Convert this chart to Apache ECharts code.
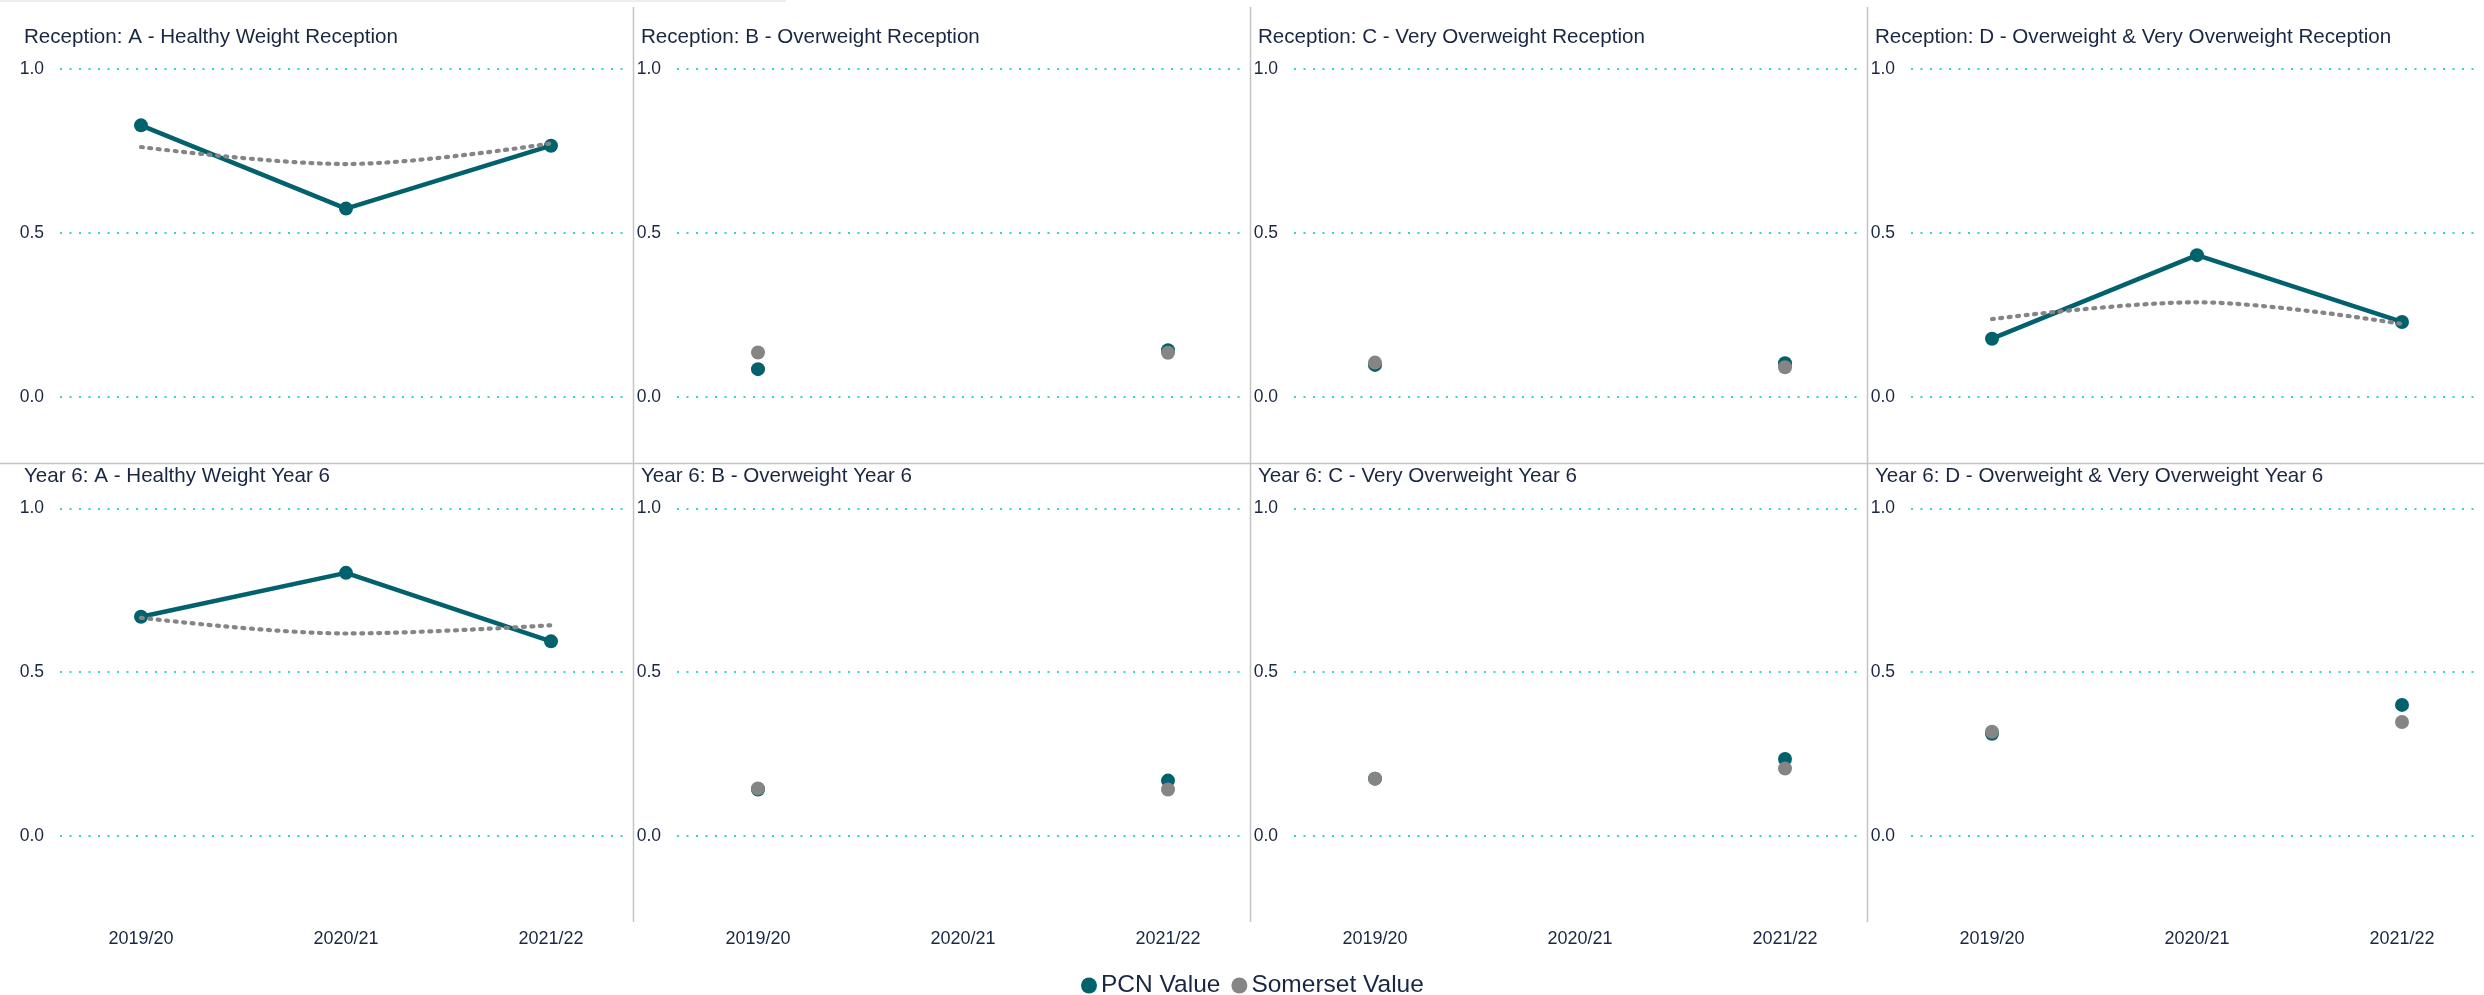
<!DOCTYPE html>
<html>
<head>
<meta charset="utf-8">
<title>Child weight measurements – PCN vs Somerset</title>
<script src="https://cdn.jsdelivr.net/npm/echarts@6/dist/echarts.min.js"></script>
<style>
  html, body { margin: 0; padding: 0; background: #ffffff; }
  #chart { width: 2484px; height: 995px; }
</style>
</head>
<body>
<div id="chart"></div>
<script>
// School years on the x axis
const years = ['2019/20', '2020/21', '2021/22'];

// Y axis tick values
const yTicks = [0, 0.5, 1.0];

// Small-multiple titles, reception row first, then year 6
const panelTitles = [
  'Reception: A - Healthy Weight Reception',
  'Reception: B - Overweight Reception',
  'Reception: C - Very Overweight Reception',
  'Reception: D - Overweight & Very Overweight Reception',
  'Year 6: A - Healthy Weight Year 6',
  'Year 6: B - Overweight Year 6',
  'Year 6: C - Very Overweight Year 6',
  'Year 6: D - Overweight & Very Overweight Year 6'
];

// Proportions per panel (null = no figure for that year)
const recA_pcn = [0.828, 0.574, 0.766];
const recA_som = [0.762, 0.710, 0.773];
const recB_pcn = [0.084, null, 0.142];
const recB_som = [0.135, null, 0.134];
const recC_pcn = [0.097, null, 0.102];
const recC_som = [0.104, null, 0.090];
const recD_pcn = [0.177, 0.432, 0.228];
const recD_som = [0.237, 0.288, 0.222];
const y6A_pcn = [0.669, 0.803, 0.594];
const y6A_som = [0.666, 0.618, 0.643];
const y6B_pcn = [0.142, null, 0.169];
const y6B_som = [0.145, null, 0.142];
const y6C_pcn = [0.175, null, 0.235];
const y6C_som = [0.175, null, 0.206];
const y6D_pcn = [0.312, null, 0.400];
const y6D_som = [0.318, null, 0.348];

const pcnSets = [recA_pcn, recB_pcn, recC_pcn, recD_pcn, y6A_pcn, y6B_pcn, y6C_pcn, y6D_pcn];
const somSets = [recA_som, recB_som, recC_som, recD_som, y6A_som, y6B_som, y6C_som, y6D_som];

const PCN_COLOR = '#01616d';
const SOM_COLOR = '#858585';
const TEXT_COLOR = '#1a2742';
const GRID_COLOR = '#33d4d2';
const FONT = "'Liberation Sans', Arial, sans-serif";

// layout of the 2 x 4 small multiples
const COL_STEP = 617;
const rowTop = [69, 508.3];
const rowHeight = [327.7, 327.7];
const titleTop = [27, 466];

const grids = [], xAxes = [], yAxes = [], series = [], titles = [];

// a point gets a marker when it has no neighbour to join a line to
function isolated(arr, i) {
  const prev = i > 0 ? arr[i - 1] : null;
  const next = i < arr.length - 1 ? arr[i + 1] : null;
  return prev == null && next == null;
}

panelTitles.forEach((t, p) => {
  const r = Math.floor(p / 4), c = p % 4;
  const x0 = c * COL_STEP;

  titles.push({
    text: t, left: 24 + x0, top: titleTop[r], padding: 0,
    textStyle: { fontFamily: FONT, fontSize: 20.6, fontWeight: 'normal', color: TEXT_COLOR }
  });

  // background grid: y labels and dotted gridlines across the full panel
  const bg = grids.length;
  grids.push({ left: 60 + x0, width: 568, top: rowTop[r], height: rowHeight[r] });
  xAxes.push({ gridIndex: bg, type: 'category', data: years, show: false });
  yAxes.push({
    gridIndex: bg, type: 'value', min: 0, max: 1, interval: 0.5,
    axisLine: { show: false }, axisTick: { show: false },
    axisLabel: {
      margin: 16, fontFamily: FONT, fontSize: 17.5, color: TEXT_COLOR,
      formatter: v => yTicks.includes(v) ? v.toFixed(1) : ''
    },
    splitLine: { show: true, lineStyle: { color: GRID_COLOR, width: 2, type: [2, 7.5] } }
  });

  // data grid: category positions for the three years
  const dg = grids.length;
  grids.push({ left: 141 + x0, width: 410, top: rowTop[r], height: rowHeight[r] });
  xAxes.push({
    gridIndex: dg, type: 'category', data: years, boundaryGap: false,
    axisLine: { show: false }, axisTick: { show: false }, splitLine: { show: false },
    axisLabel: {
      show: r === 1, interval: 0, margin: 94,
      fontFamily: FONT, fontSize: 18, color: TEXT_COLOR
    }
  });
  yAxes.push({ gridIndex: dg, type: 'value', min: 0, max: 1, show: false, splitLine: { show: false } });

  const pcn = pcnSets[p];
  const som = somSets[p];

  series.push({
    name: 'PCN Value', type: 'line', xAxisIndex: dg, yAxisIndex: dg,
    data: pcn, symbol: 'circle', symbolSize: 14, showSymbol: true,
    lineStyle: { color: PCN_COLOR, width: 4.5 },
    itemStyle: { color: PCN_COLOR },
    connectNulls: false, z: 3
  });
  series.push({
    name: 'Somerset Value', type: 'line', xAxisIndex: dg, yAxisIndex: dg,
    data: som.map((v, i) => ({
      value: v,
      symbol: isolated(som, i) ? 'circle' : 'none'
    })),
    symbolSize: 14, smooth: 0.35,
    lineStyle: { color: SOM_COLOR, width: 4.2, type: [2, 6.5], cap: 'round' },
    itemStyle: { color: SOM_COLOR },
    connectNulls: false, z: 4
  });
});

// panel dividers
const divColor = '#c4c4c4';
const graphics = [
  { type: 'line', shape: { x1: 0, y1: 1, x2: 786, y2: 1 }, style: { stroke: '#ededed', lineWidth: 2 } },
  { type: 'line', shape: { x1: 0, y1: 463.5, x2: 2484, y2: 463.5 }, style: { stroke: divColor, lineWidth: 1.5 } }
];
[1, 2, 3].forEach(c => {
  const x = 633.5 + (c - 1) * COL_STEP;
  graphics.push({ type: 'line', shape: { x1: x, y1: 7, x2: x, y2: 922 }, style: { stroke: divColor, lineWidth: 1.5 } });
});

const chart = echarts.init(document.getElementById('chart'), null, { renderer: 'canvas' });
chart.setOption({
  animation: false,
  backgroundColor: '#ffffff',
  title: titles,
  grid: grids,
  xAxis: xAxes,
  yAxis: yAxes,
  series: series,
  graphic: graphics,
  legend: {
    data: ['PCN Value', 'Somerset Value'],
    left: 1076, top: 968,
    icon: 'circle', itemWidth: 16, itemHeight: 16, itemGap: 11,
    textStyle: { fontFamily: FONT, fontSize: 24.5, color: TEXT_COLOR, padding: [0, 0, 0, -1] }
  }
});
</script>
</body>
</html>
